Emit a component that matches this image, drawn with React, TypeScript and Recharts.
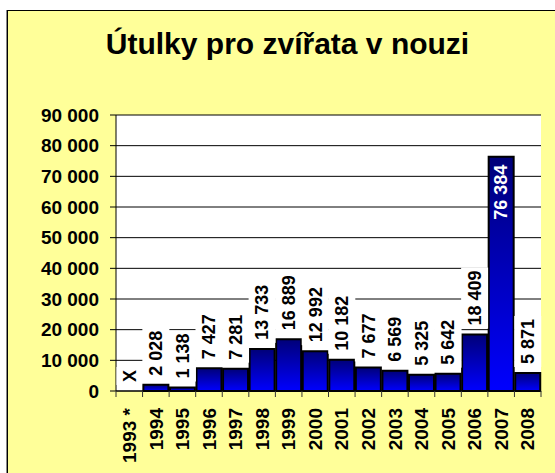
import React from "react";
import { BarChart, Bar, XAxis, YAxis, CartesianGrid, LabelList } from "recharts";

const title = "Útulky pro zvířata v nouzi";
const years = ["1993 *", "1994", "1995", "1996", "1997", "1998", "1999", "2000", "2001", "2002", "2003", "2004", "2005", "2006", "2007", "2008"];
const counts = [0, 2028, 1138, 7427, 7281, 13733, 16889, 12992, 10182, 7677, 6569, 5325, 5642, 18409, 76384, 5871];
const valueLabels = ["X", "2 028", "1 138", "7 427", "7 281", "13 733", "16 889", "12 992", "10 182", "7 677", "6 569", "5 325", "5 642", "18 409", "76 384", "5 871"];
const yTicks = [0, 10000, 20000, 30000, 40000, 50000, 60000, 70000, 80000, 90000];

const data = years.map((year, i) => ({ year, count: counts[i] }));

const FONT = '"Liberation Sans", Arial, sans-serif';
const TICK_SIZE = 6;
const TICK_MARGIN = 11;
const LABEL_FS = 18;
const maxCount = Math.max(...counts);

const fmt = (n: number) => String(n).replace(/\B(?=(\d{3})+(?!\d))/g, " ");
const advance = (s: string) => {
  let w = 0;
  for (const c of s) w += c === " " ? 0.278 : c === "X" ? 0.667 : 0.556;
  return w;
};

function OutsideLabel({ cx, top, boxW, label }: { cx: number; top: number; boxW: number; label: string }) {
  const len = advance(label) * LABEL_FS;
  const bottom = top - 9;
  return (
    <g>
      <rect x={cx - boxW / 2} y={bottom - len - 3} width={boxW} height={len + 6} fill="#fff" />
      <text
        transform={`translate(${cx},${bottom}) rotate(-90)`}
        textAnchor="start"
        dy="0.35em"
        fontSize={LABEL_FS}
        fontWeight="bold"
        fontFamily={FONT}
        fill="#000"
      >
        {label}
      </text>
    </g>
  );
}

function DataLabel(props: any) {
  const i = years.indexOf(String(props.value));
  if (i < 0) return null;
  const x = Number(props.x);
  const y = Number(props.y);
  const width = Number(props.width);
  const label = valueLabels[i];
  const cx = x + width / 2;
  if (counts[i] === maxCount) {
    return (
      <text
        transform={`translate(${cx},${y + 8}) rotate(-90)`}
        textAnchor="end"
        dy="0.35em"
        fontSize={LABEL_FS}
        fontWeight="bold"
        fontFamily={FONT}
        fill="#fff"
      >
        {label}
      </text>
    );
  }
  return <OutsideLabel cx={cx} top={y} boxW={width + 2} label={label} />;
}

function XTick(props: any) {
  const { x, y, payload, index } = props;
  const half = payload && payload.offset ? payload.offset : 13.28;
  const axisY = y - TICK_SIZE - TICK_MARGIN;
  const i = years.indexOf(String(payload.value));
  return (
    <g>
      <line x1={x - half} x2={x - half} y1={axisY} y2={axisY + TICK_SIZE} stroke="#333" strokeWidth={1} />
      {index === years.length - 1 && (
        <line x1={x + half} x2={x + half} y1={axisY} y2={axisY + TICK_SIZE} stroke="#333" strokeWidth={1} />
      )}
      {i >= 0 && counts[i] === 0 && (
        <OutsideLabel cx={x} top={axisY} boxW={half * 2 - 1} label={valueLabels[i]} />
      )}
      <text
        transform={`translate(${x},${y}) rotate(-90)`}
        textAnchor="end"
        dy="0.35em"
        fontSize={19}
        fontWeight="bold"
        fontFamily={FONT}
        fill="#000"
      >
        {payload.value}
      </text>
    </g>
  );
}

export default function App() {
  return (
    <div style={{ position: "absolute", left: 0, top: 0, width: 555, height: 473, overflow: "hidden", background: "#fff" }}>
      <div
        style={{
          position: "absolute",
          left: 7,
          top: 10,
          width: 600,
          height: 500,
          background: "#FFFF99",
          borderLeft: "1px solid #000",
          borderTop: "1px solid #000",
          boxShadow: "-1px 0 0 #888",
        }}
      />
      <div
        style={{
          position: "absolute",
          left: 0,
          top: 29,
          width: 575,
          textAlign: "center",
          fontFamily: FONT,
          fontWeight: "bold",
          fontSize: 30,
          lineHeight: "30px",
          color: "#000",
        }}
      >
        {title}
      </div>
      <div style={{ position: "absolute", left: 0, top: 0 }}>
        <BarChart
          width={555}
          height={473}
          data={data}
          margin={{ top: 115, right: 14, left: 0, bottom: 0 }}
          barCategoryGap="3%"
        >
          <defs>
            <linearGradient id="barGrad" x1="0" y1="0" x2="0" y2="1">
              <stop offset="0%" stopColor="#000078" />
              <stop offset="100%" stopColor="#0000FF" />
            </linearGradient>
          </defs>
          <CartesianGrid horizontal vertical={false} stroke="#000" strokeOpacity={1} fill="#fff" fillOpacity={1} />
          <XAxis
            dataKey="year"
            interval={0}
            height={82}
            tickSize={TICK_SIZE}
            tickMargin={TICK_MARGIN}
            tickLine={false}
            axisLine={{ stroke: "#000", strokeWidth: 1 }}
            tick={<XTick />}
          />
          <YAxis
            width={116}
            domain={[0, 90000]}
            ticks={yTicks}
            interval={0}
            tickFormatter={fmt}
            tickSize={TICK_SIZE}
            tickMargin={TICK_MARGIN}
            axisLine={{ stroke: "#000", strokeWidth: 1 }}
            tickLine={{ stroke: "#000", strokeWidth: 1 }}
            tick={{ fontSize: 19, fontWeight: "bold", fill: "#000", fontFamily: FONT }}
          />
          <YAxis
            yAxisId="right"
            orientation="right"
            width={0}
            tick={false}
            tickLine={false}
            axisLine={{ stroke: "#808080", strokeWidth: 1 }}
          />
          <Bar dataKey="count" fill="url(#barGrad)" stroke="#000" strokeWidth={2} isAnimationActive={false}>
            <LabelList dataKey="year" content={<DataLabel />} />
          </Bar>
        </BarChart>
      </div>
    </div>
  );
}
